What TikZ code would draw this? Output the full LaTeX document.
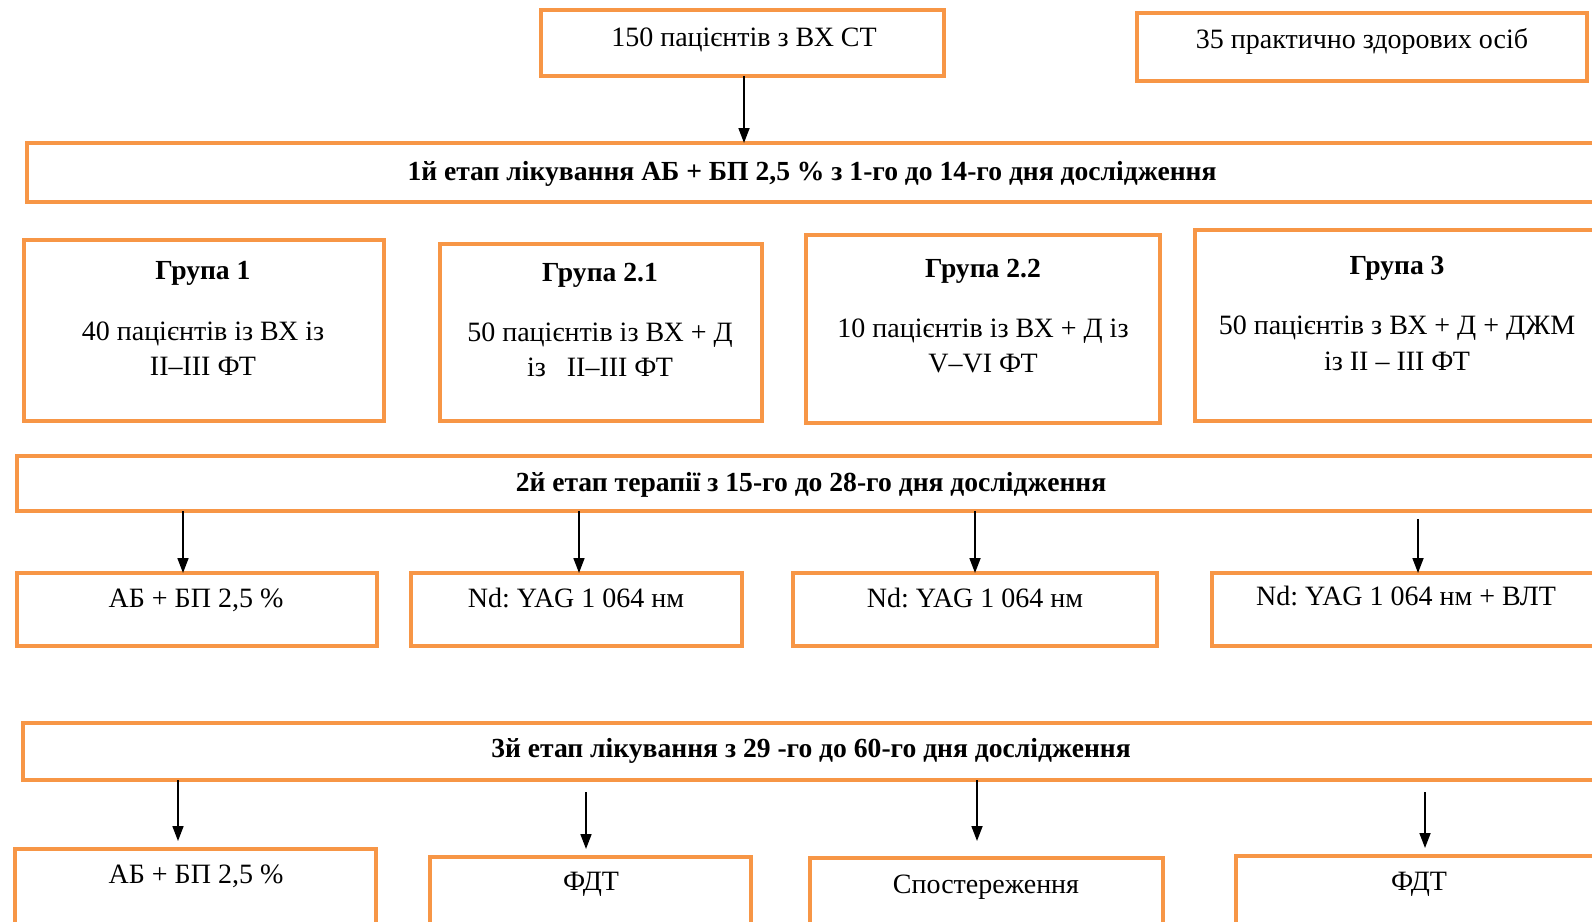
\documentclass[tikz,border=0pt]{standalone}
\usepackage{fontspec}
\setmainfont{Liberation Serif}
\usetikzlibrary{arrows.meta}
\definecolor{boxor}{HTML}{F79646}
\newcommand\mybox[5]{\node[box,minimum width={(#4)-(#2)},minimum height={(#5)-(#3)}] (#1) at (#2,#3) {};}
\frenchspacing
\begin{document}
\begin{tikzpicture}[x=1pt,y=-1pt,
 box/.style={draw=boxor, line width=4pt, rectangle, inner sep=0pt, outer sep=0pt, anchor=north west},
 txt/.style={font=\fontsize{28}{34}\selectfont\frenchspacing, inner sep=0pt, text height=18pt, text depth=0pt, anchor=center},
 btxt/.style={txt, font=\fontsize{27.6}{34}\selectfont\bfseries\frenchspacing},
 arr/.style={line width=1.7pt, -{Triangle[length=15pt,width=11pt]}}]
\useasboundingbox (0,0) rectangle (1592,921);
\clip (0,0) rectangle (1592,921);
% boxes
\mybox{A}{541}{10}{944}{76}
\mybox{B}{1137}{13}{1587}{81}
\mybox{SA}{27}{143}{1650}{202}
\mybox{G1}{24}{240}{384}{421}
\mybox{G21}{440}{244}{762}{421}
\mybox{G22}{806}{235}{1160}{423}
\mybox{G3}{1195}{230}{1650}{421}
\mybox{SB}{17}{456}{1650}{511}
\mybox{R1}{17}{573}{377}{646}
\mybox{R2}{411}{573}{742}{646}
\mybox{R3}{793}{573}{1157}{646}
\mybox{R4}{1212}{573}{1650}{646}
\mybox{SC}{23}{723}{1650}{780}
\mybox{T1}{15}{849}{376}{960}
\mybox{T2}{430}{857}{751}{960}
\mybox{T3}{810}{858}{1163}{960}
\mybox{T4}{1236}{856}{1650}{960}
% texts
\node[txt] (tA) at (744,37) {150 пацієнтів з ВХ СТ};
\node[txt] (tB) at (1362,39) {35 практично здорових осіб};
\node[btxt] (tSA) at (812,171) {1й етап лікування АБ + БП 2,5 \% з 1-го до 14-го дня дослідження};
\node[btxt] (tG1) at (203,270) {Група 1};
\node[txt] (tG1a) at (203,331) {40 пацієнтів із ВХ із};
\node[txt] (tG1b) at (203,366) {II–III ФТ};
\node[btxt] (tG21) at (600,272) {Група 2.1};
\node[txt] (tG21a) at (600,332) {50 пацієнтів із ВХ + Д};
\node[txt] (tG21b) at (600,367) {із\ \ \ II–III ФТ};
\node[btxt] (tG22) at (983,268) {Група 2.2};
\node[txt] (tG22a) at (983,328) {10 пацієнтів із ВХ + Д із};
\node[txt] (tG22b) at (983,363) {V–VI ФТ};
\node[btxt] (tG3) at (1397,265) {Група 3};
\node[txt] (tG3a) at (1397,325) {50 пацієнтів з ВХ + Д + ДЖМ};
\node[txt] (tG3b) at (1397,361) {із II – III ФТ};
\node[btxt] (tSB) at (811,482) {2й етап терапії з 15-го до 28-го дня дослідження};
\node[txt] (tR1) at (196,598) {АБ + БП 2,5 \%};
\node[txt] (tR2) at (576,598) {Nd: YAG 1 064 нм};
\node[txt] (tR3) at (975,598) {Nd: YAG 1 064 нм};
\node[txt] (tR4) at (1406,596) {Nd: YAG 1 064 нм + ВЛТ};
\node[btxt] (tSC) at (811,748) {3й етап лікування з 29 -го до 60-го дня дослідження};
\node[txt] (tT1) at (196,874) {АБ + БП 2,5 \%};
\node[txt] (tT2) at (591,881) {ФДТ};
\node[txt] (tT3) at (986,884) {Спостереження};
\node[txt] (tT4) at (1419,881) {ФДТ};
% arrow x positions
\coordinate (xa) at (744,0);
\coordinate (x1) at (183,0);
\coordinate (x2) at (579,0);
\coordinate (x3) at (975,0);
\coordinate (x4) at (1418,0);
\coordinate (y1) at (178,0);
\coordinate (y2) at (586,0);
\coordinate (y3) at (977,0);
\coordinate (y4) at (1425,0);
% arrows
\draw[arr] (A.south -| xa) -- (SA.north -| xa);
\draw[arr] (SB.south -| x1) -- (R1.north -| x1);
\draw[arr] (SB.south -| x2) -- (R2.north -| x2);
\draw[arr] (SB.south -| x3) -- (R3.north -| x3);
\draw[arr, shorten <=8pt] (SB.south -| x4) -- (R4.north -| x4);
\draw[arr, shorten >=8pt] (SC.south -| y1) -- (T1.north -| y1);
\draw[arr, shorten <=12pt, shorten >=8pt] (SC.south -| y2) -- (T2.north -| y2);
\draw[arr, shorten >=17pt] (SC.south -| y3) -- (T3.north -| y3);
\draw[arr, shorten <=12pt, shorten >=8pt] (SC.south -| y4) -- (T4.north -| y4);
\end{tikzpicture}
\end{document}
